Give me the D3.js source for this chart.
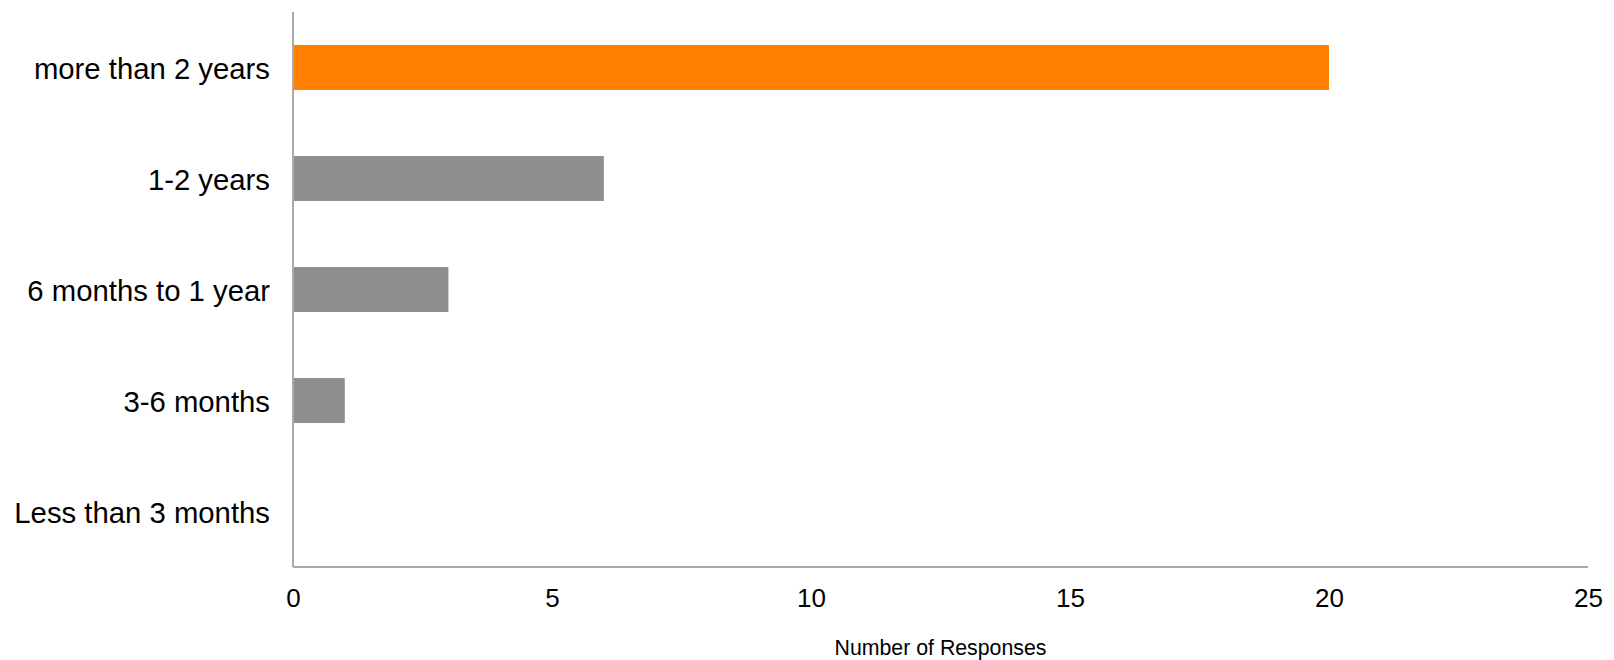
<!DOCTYPE html>
<html>
<head>
<meta charset="utf-8">
<script src="https://cdn.jsdelivr.net/npm/d3@7"></script>
<style>
  html, body { margin: 0; padding: 0; background: #fff; }
  svg { display: block; font-family: Helvetica, Arial, "Liberation Sans", sans-serif; }
</style>
</head>
<body>
<svg id="chart" width="1614" height="660"></svg>
<script>
// Survey answers: how long respondents have been using the product
const categories = ["more than 2 years", "1-2 years", "6 months to 1 year", "3-6 months", "Less than 3 months"];
const responses = [20, 6, 3, 1, 0];
const highlight = ["more than 2 years"];
const xTicks = [0, 5, 10, 15, 20, 25];
const xTitle = "Number of Responses";

const svg = d3.select("#chart");
const margin = { top: 12, right: 26, bottom: 93, left: 293 };
const width = 1614 - margin.left - margin.right;
const height = 660 - margin.top - margin.bottom;

const g = svg.append("g").attr("transform", `translate(${margin.left},${margin.top})`);

const x = d3.scaleLinear().domain([0, 25]).range([0, width]);
const y = d3.scaleBand().domain(categories).range([0, height]).paddingInner(0.595).paddingOuter(0.2975);

const rows = categories.map((c, i) => ({ c, v: responses[i] }));

// bars
g.selectAll("rect.bar")
  .data(rows)
  .join("rect")
  .attr("class", "bar")
  .attr("x", x(0))
  .attr("y", d => y(d.c))
  .attr("width", d => x(d.v) - x(0))
  .attr("height", y.bandwidth())
  .attr("fill", d => highlight.includes(d.c) ? "#ff7f00" : "#8e8e8e");

// y axis: category labels
const yAxis = d3.axisLeft(y).tickSize(0).tickPadding(23);
const yg = g.append("g").call(yAxis);
yg.select(".domain").remove();
yg.selectAll("text").attr("font-size", 29.3).attr("fill", "#000")
  .attr("dy", "0.38em")
  .attr("font-family", "Helvetica, Arial, 'Liberation Sans', sans-serif");

// x axis: numeric labels
const xAxis = d3.axisBottom(x).tickValues(xTicks).tickSize(0).tickPadding(22);
const xg = g.append("g").attr("transform", `translate(0,${height})`).call(xAxis);
xg.select(".domain").remove();
xg.selectAll("text").attr("font-size", 26).attr("fill", "#000")
  .attr("font-family", "Helvetica, Arial, 'Liberation Sans', sans-serif");

// axis lines
g.append("line").attr("x1", 0).attr("x2", 0).attr("y1", 0).attr("y2", height)
  .attr("stroke", "#aaa").attr("stroke-width", 2);
g.append("line").attr("x1", 0).attr("x2", width).attr("y1", height).attr("y2", height)
  .attr("stroke", "#aaa").attr("stroke-width", 2);

// x axis title
svg.append("text")
  .attr("x", margin.left + width / 2)
  .attr("y", 655)
  .attr("text-anchor", "middle")
  .attr("font-size", 21.3)
  .attr("fill", "#000")
  .text(xTitle);
</script>
</body>
</html>
